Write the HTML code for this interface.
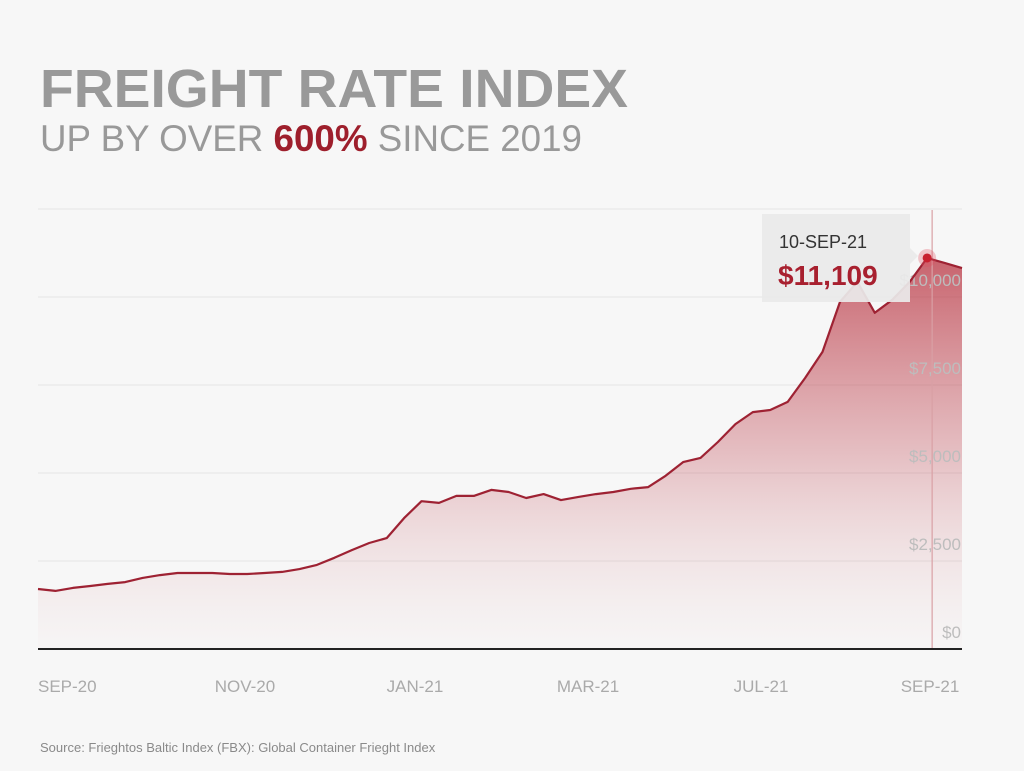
<!DOCTYPE html>
<html><head><meta charset="utf-8"><style>
html,body{margin:0;padding:0;background:#f7f7f7;}
svg{display:block;font-family:"Liberation Sans",sans-serif;}
</style></head><body>
<svg id="chart" width="1024" height="771" viewBox="0 0 1024 771">
<defs>
<linearGradient id="fillGrad" x1="0" y1="0" x2="0" y2="1" gradientUnits="userSpaceOnUse" x1v="0">
</linearGradient>
<linearGradient id="areaGrad" x1="0" y1="258" x2="0" y2="649" gradientUnits="userSpaceOnUse">
<stop offset="0" stop-color="#b8323f" stop-opacity="0.75"/>
<stop offset="0.5" stop-color="#c45560" stop-opacity="0.35"/>
<stop offset="1" stop-color="#e8c8cb" stop-opacity="0.05"/>
</linearGradient>
</defs>
<rect width="1024" height="771" fill="#f7f7f7"/>
<text x="40" y="107" font-size="54" font-weight="bold" fill="#999" textLength="588" lengthAdjust="spacingAndGlyphs">FREIGHT RATE INDEX</text>
<text x="40" y="151" font-size="37" fill="#999" textLength="542" lengthAdjust="spacingAndGlyphs">UP BY OVER <tspan font-weight="bold" fill="#9e1f2c">600%</tspan> SINCE 2019</text>
<g id="grid"></g>
<g id="plot"></g>
<g id="xaxis"></g>
<text x="40" y="752" font-size="13" fill="#8a8a8a">Source: Frieghtos Baltic Index (FBX): Global Container Frieght Index</text>
</svg>
<script>
const values = [1705,1650,1735,1790,1850,1900,2020,2100,2160,2160,2160,2130,2130,2160,2190,2270,2390,2590,2810,3010,3150,3720,4200,4150,4350,4350,4520,4460,4290,4400,4230,4320,4400,4460,4550,4600,4920,5310,5430,5880,6390,6730,6790,7020,7700,8440,9860,10430,9550,9920,10430,11109,10970,10820];
const yTicks = [0,2500,5000,7500,10000,12500];
const yTickLabels = ["$0","$2,500","$5,000","$7,500","$10,000",""];
const xLabels = ["SEP-20","NOV-20","JAN-21","MAR-21","JUL-21","SEP-21"];
const highlightIndex = 51;
const highlightDate = "10-SEP-21";

const NS="http://www.w3.org/2000/svg";
const X0=38,X1=962,Y0=649,PX_PER=88/2500;
const xs=i=>X0+i*(X1-X0)/(values.length-1);
const ys=v=>Y0-v*PX_PER;
function mk(tag,attrs,parent){const e=document.createElementNS(NS,tag);for(const k in attrs)e.setAttribute(k,attrs[k]);parent.appendChild(e);return e;}
const grid=document.getElementById('grid'),plot=document.getElementById('plot'),xaxis=document.getElementById('xaxis');

yTicks.forEach((t,i)=>{
  if(t>0){const l=mk('line',{x1:X0,x2:X1,y1:ys(t),y2:ys(t),stroke:'#e4e4e4','stroke-width':1},grid);
  
  }
});

let d='M'+xs(0)+','+ys(values[0]);
values.forEach((v,i)=>{if(i)d+=' L'+xs(i).toFixed(1)+','+ys(v).toFixed(1);});
const area=mk('path',{d:d+' L'+xs(values.length-1)+','+Y0+' L'+X0+','+Y0+' Z',fill:'url(#areaGrad)'},plot);



yTicks.forEach((t,i)=>{
  if(!yTickLabels[i])return;
  const tx=mk('text',{x:961,y:ys(t)-11,'font-size':17,fill:'#bdbdbd','text-anchor':'end'},plot);
  tx.textContent=yTickLabels[i];
  
  
});

const hx=xs(highlightIndex)+5,hy=ys(values[highlightIndex]);
const vl=mk('line',{x1:hx,x2:hx,y1:210,y2:Y0,stroke:'#d9a0a5','stroke-width':1.2},plot);



const line=mk('path',{d:d,fill:'none',stroke:'#9e2233','stroke-width':2.2,'stroke-linejoin':'round'},plot);



const base=mk('line',{x1:X0,x2:X1,y1:Y0,y2:Y0,stroke:'#222','stroke-width':2},plot);



const halo=mk('circle',{cx:xs(highlightIndex),cy:hy,r:9,fill:'#e05060','fill-opacity':0.3},plot);


const dot=mk('circle',{cx:xs(highlightIndex),cy:hy,r:4.5,fill:'#c8202f'},plot);



const tip=mk('g',{},plot);


mk('path',{d:'M762,214 H910 V302 H762 Z M910,248 L918,256 L910,264 Z',fill:'#e9e9e9','fill-opacity':0.93},tip);
const t1=mk('text',{x:779,y:248,'font-size':18,fill:'#333'},tip);t1.textContent=highlightDate;


const t2=mk('text',{x:778,y:285,'font-size':28,'font-weight':'bold',fill:'#a8202f'},tip);
t2.textContent='$'+values[highlightIndex].toLocaleString('en-US');



const xPos=[38,245,415,588,761,930];
xLabels.forEach((lab,i)=>{
  const anchor=i===0?'start':(i===xLabels.length-1?'middle':'middle');
  const tx=mk('text',{x:xPos[i],y:692,'font-size':17,fill:'#aaa','text-anchor':anchor},xaxis);
  tx.textContent=lab;
  
  
});
</script>
</body></html>
